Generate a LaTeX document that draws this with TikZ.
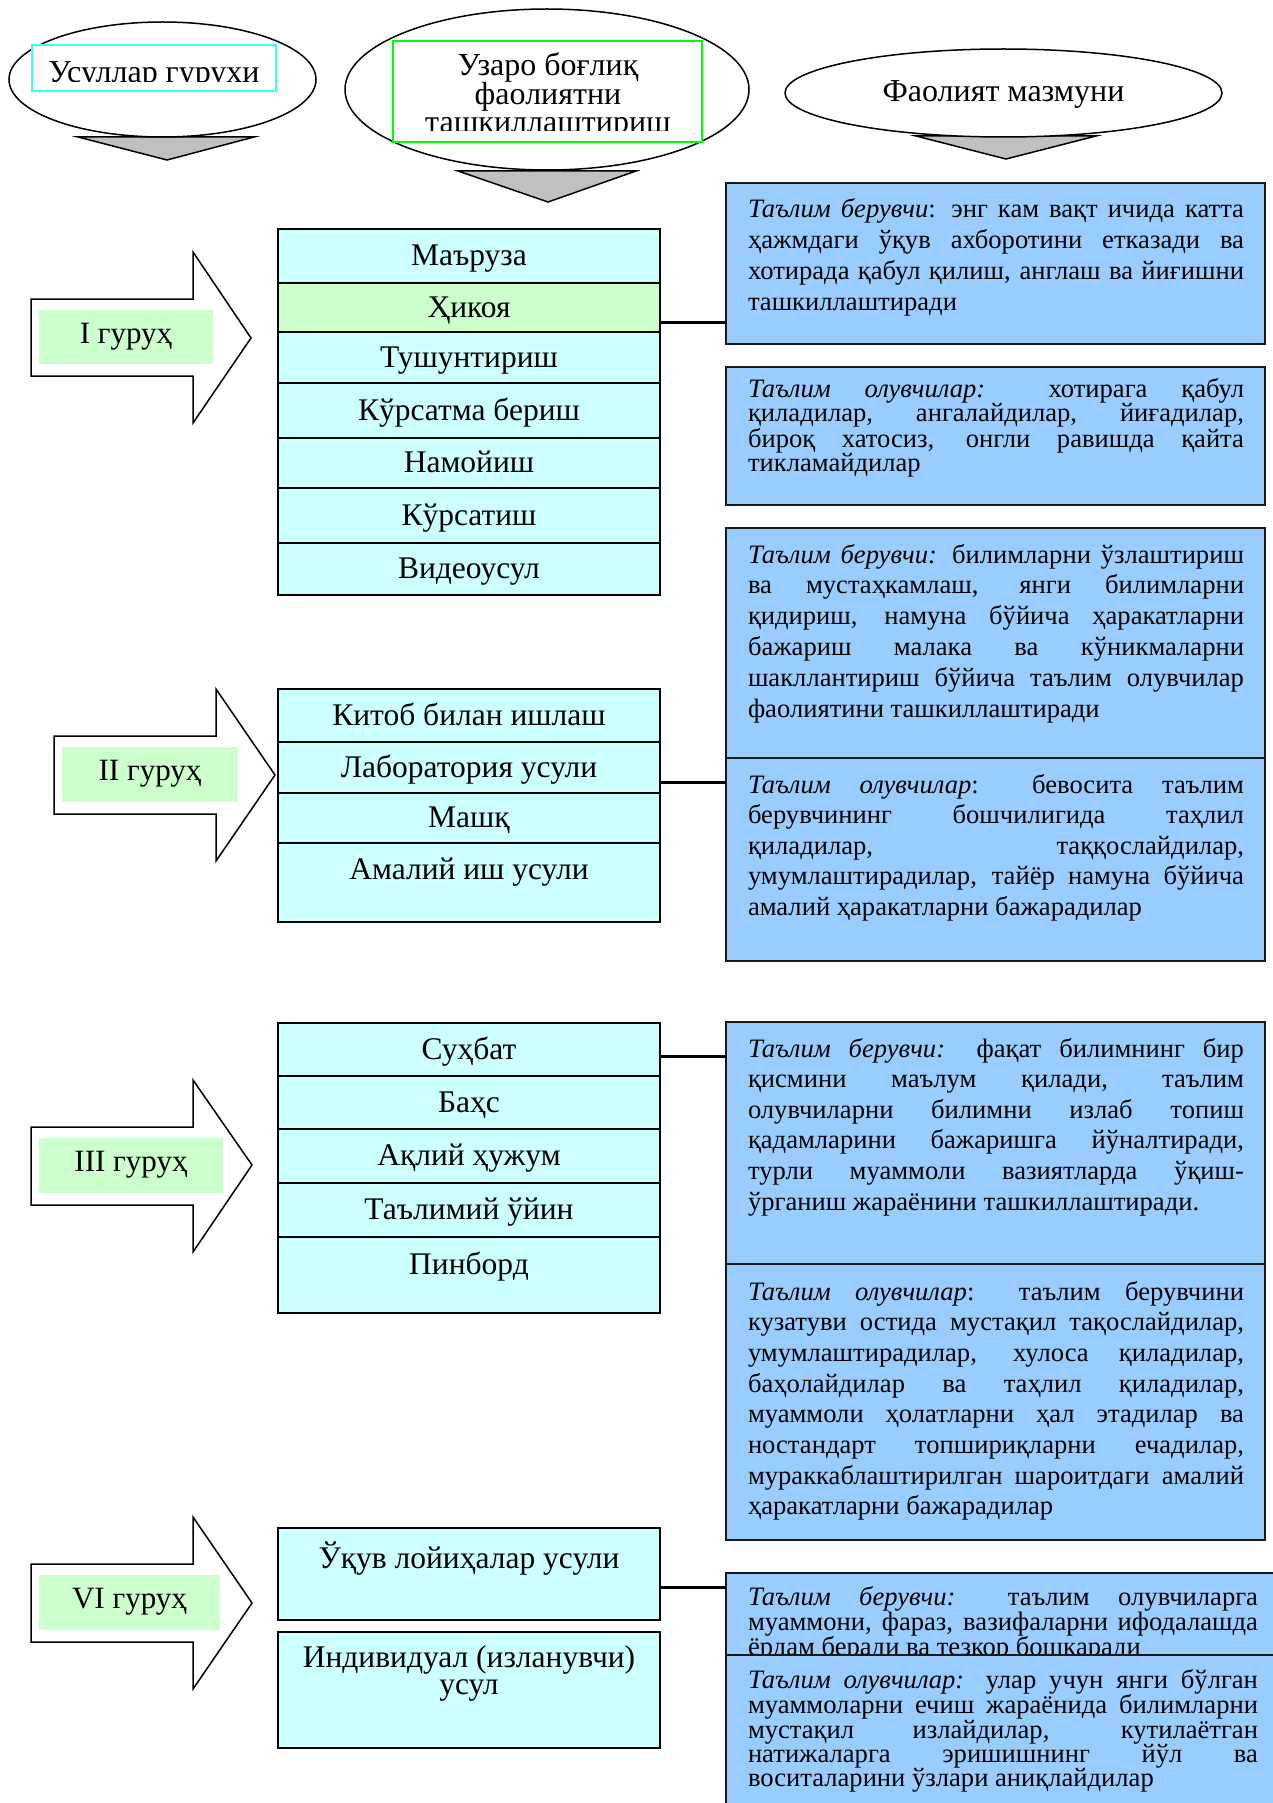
\documentclass[tikz,border=0pt]{standalone}
\usepackage{fontspec}
\setmainfont{Liberation Serif}
\usetikzlibrary{shapes.geometric}
\definecolor{rowcyan}{HTML}{CCFFFF}
\definecolor{rowgreen}{HTML}{CCFFCC}
\definecolor{labgreen}{HTML}{CCFFCC}
\definecolor{boxblue}{HTML}{99CCFF}
\definecolor{trigray}{HTML}{C0C0C0}
\definecolor{cyanrim}{HTML}{33FFFF}
\definecolor{greenrim}{HTML}{00FF00}
\newlength\bw
\newcommand\jl[1]{\hbox to \bw{#1}}
\newcommand\lastl[1]{\hbox to \bw{#1\hfil}}
\newcommand\btext[3]{\vtop{\setlength\bw{#1}\fontsize{26.6}{#2}\selectfont #3}}
\begin{document}
\begin{tikzpicture}[x=1pt,y=-1pt,
  rowbox/.style={draw=black, line width=1.5pt, fill=rowcyan, minimum width=382pt,
    inner sep=0pt, outer sep=0pt, anchor=north west, text height=21pt, text depth=2pt,
    font=\fontsize{31.5}{31.5}\selectfont},
  bbox/.style={draw=black!90, line width=1.5pt, fill=boxblue, inner sep=0pt, outer sep=0pt,
    anchor=north west, minimum width=539pt},
  btxt/.style={anchor=base west, inner sep=0pt, outer sep=0pt},
  glabel/.style={fill=labgreen, inner sep=0pt, outer sep=0pt, anchor=north west,
    text height=21pt, text depth=9pt, font=\fontsize{31}{31}\selectfont},
  garrow/.style={draw=black, line width=1.5pt, fill=white, line join=miter},
  tri/.style={draw=black, line width=1.5pt, fill=trigray, line join=miter},
  hell/.style={ellipse, draw=black, line width=1.5pt, fill=white, inner sep=0pt, outer sep=0pt},
  htxt/.style={anchor=base, inner sep=0pt, font=\fontsize{32}{32}\selectfont},
  conn/.style={draw=black, line width=3pt}
]
\useasboundingbox (0,0) rectangle (1272,1803);
\fill[white] (0,0) rectangle (1272,1803);

% ---------- header ----------
\draw[tri] (78,137) -- (254,137) -- (167,160) -- cycle;
\draw[tri] (458,171) -- (636,171) -- (548,202) -- cycle;
\draw[tri] (916,136) -- (1096,136) -- (1006,159) -- cycle;
\node[hell, minimum width=307pt, minimum height=115pt] (e1) at (162.5,79.5) {};
\node[hell, minimum width=404pt, minimum height=161pt] (e2) at (547,89.5) {};
\node[hell, minimum width=437pt, minimum height=88pt] (e3) at (1003.5,93) {};
\node[draw=cyanrim, line width=1.5pt, fill=white, inner sep=0pt, outer sep=0pt,
  anchor=north west, minimum width=244pt, minimum height=46pt] (h1) at (32,45) {};
\node[draw=greenrim, line width=1.5pt, fill=white, inner sep=0pt, outer sep=0pt,
  anchor=north west, minimum width=309pt, minimum height=101pt] (h2) at (393,41) {};
\begin{scope}
  \clip (32,45) rectangle (276,82);
  \node[htxt] (h1t) at (154,83) {Усуллар гурухи};
\end{scope}
\begin{scope}
  \clip (393,41) rectangle (702,131);
  \node[htxt] (h2a) at (548,76) {Узаро боғлиқ};
  \node[htxt] (h2b) at (548,105) {фаолиятни};
  \node[htxt] (h2c) at (548,133) {ташкиллаштириш};
\end{scope}
\node[htxt] (h3t) at (1003.5,102) {Фаолият мазмуни};

% ---------- group arrows ----------
\draw[garrow] (31,299) -- (193,299) -- (193,252) -- (251,338) -- (193,423) -- (193,376) -- (31,376) -- cycle;
\draw[garrow] (54,736) -- (216,736) -- (216,689) -- (275,775) -- (216,861) -- (216,814) -- (54,814) -- cycle;
\draw[garrow] (31,1127) -- (193,1127) -- (193,1080) -- (252,1165) -- (193,1252) -- (193,1205) -- (31,1205) -- cycle;
\draw[garrow] (31,1564) -- (193,1564) -- (193,1517) -- (252,1603) -- (193,1689) -- (193,1642) -- (31,1642) -- cycle;
\node[glabel, minimum width=174pt, minimum height=54pt] (g1) at (39,310) {I гуруҳ};
\node[glabel, minimum width=176pt, minimum height=55pt] (g2) at (62,747) {II гуруҳ};
\node[glabel, minimum width=184pt, minimum height=55pt] (g3) at (39,1138) {III гуруҳ};
\node[glabel, minimum width=181pt, minimum height=55pt] (g4) at (39,1575) {VI гуруҳ};

% ---------- method lists ----------
\node[rowbox, minimum height=54pt] (r11) at (278,229) {Маъруза};
\node[rowbox, minimum height=49pt, fill=rowgreen] (r12) at (278,283) {Ҳикоя};
\node[rowbox, minimum height=51pt] (r13) at (278,332) {Тушунтириш};
\node[rowbox, minimum height=55pt] (r14) at (278,383) {Кўрсатма бериш};
\node[rowbox, minimum height=50pt] (r15) at (278,438) {Намойиш};
\node[rowbox, minimum height=55pt] (r16) at (278,488) {Кўрсатиш};
\node[rowbox, minimum height=52pt] (r17) at (278,543) {Видеоусул};

\node[rowbox, minimum height=53pt] (r21) at (278,689) {Китоб билан ишлаш};
\node[rowbox, minimum height=51pt] (r22) at (278,742) {Лаборатория усули};
\node[rowbox, minimum height=50pt] (r23) at (278,793) {Машқ};
\node[rowbox, minimum height=79pt, text depth=27pt] (r24) at (278,843) {Амалий иш усули};

\node[rowbox, minimum height=53pt] (r31) at (278,1023) {Суҳбат};
\node[rowbox, minimum height=53pt] (r32) at (278,1076) {Баҳс};
\node[rowbox, minimum height=54pt] (r33) at (278,1129) {Ақлий ҳужум};
\node[rowbox, minimum height=54pt] (r34) at (278,1183) {Таълимий ўйин};
\node[rowbox, minimum height=76pt, text depth=22pt] (r35) at (278,1237) {Пинборд};

\node[rowbox, minimum height=92pt, text depth=32pt] (r41) at (278,1528) {Ўқув лойиҳалар усули};
\node[rowbox, minimum height=116pt] (r42) at (278,1632) {};
\node[htxt, font=\fontsize{31.5}{31.5}\selectfont] (r42a) at (469,1667) {Индивидуал (изланувчи)};
\node[htxt, font=\fontsize{31.5}{31.5}\selectfont] (r42b) at (469,1694) {усул};

% ---------- content boxes ----------
\node[bbox, minimum height=161pt] (b1) at (726,183) {};
\node[btxt] (t1) at (748,218) {\btext{496pt}{30.7}{%
\jl{\textit{Таълим берувчи}: энг кам вақт ичида катта}%
\jl{ҳажмдаги ўқув ахборотини етказади ва}%
\jl{хотирада қабул қилиш, англаш ва йиғишни}%
\lastl{ташкиллаштиради}}};

\node[bbox, minimum height=138pt] (b2) at (726,367) {};
\node[btxt] (t2) at (748,397) {\btext{496pt}{24.3}{%
\jl{\textit{Таълим олувчилар:} хотирага қабул}%
\jl{қиладилар, ангалайдилар, йиғадилар,}%
\jl{бироқ хатосиз, онгли равишда қайта}%
\lastl{тикламайдилар}}};

\node[bbox, minimum height=230pt] (b3) at (726,528) {};
\node[btxt] (t3) at (748,563) {\btext{496pt}{30.8}{%
\jl{\textit{Таълим берувчи:} билимларни ўзлаштириш}%
\jl{ва мустаҳкамлаш, янги билимларни}%
\jl{қидириш, намуна бўйича ҳаракатларни}%
\jl{бажариш малака ва кўникмаларни}%
\jl{шакллантириш бўйича таълим олувчилар}%
\lastl{фаолиятини ташкиллаштиради}}};

\node[bbox, minimum height=203pt] (b4) at (726,758) {};
\node[btxt] (t4) at (748,793) {\btext{496pt}{30.5}{%
\jl{\textit{Таълим олувчилар}: бевосита таълим}%
\jl{берувчининг бошчилигида таҳлил}%
\jl{қиладилар, таққослайдилар,}%
\jl{умумлаштирадилар, тайёр намуна бўйича}%
\lastl{амалий ҳаракатларни бажарадилар}}};

\node[bbox, minimum height=242pt] (b5) at (726,1022) {};
\node[btxt] (t5) at (748,1057) {\btext{496pt}{30.6}{%
\jl{\textit{Таълим берувчи:} фақат билимнинг бир}%
\jl{қисмини маълум қилади, таълим}%
\jl{олувчиларни билимни излаб топиш}%
\jl{қадамларини бажаришга йўналтиради,}%
\jl{турли муаммоли вазиятларда ўқиш-}%
\lastl{ўрганиш жараёнини ташкиллаштиради.}}};

\node[bbox, minimum height=276pt] (b6) at (726,1264) {};
\node[btxt] (t6) at (748,1300) {\btext{496pt}{30.7}{%
\jl{\textit{Таълим олувчилар}: таълим берувчини}%
\jl{кузатуви остида мустақил тақослайдилар,}%
\jl{умумлаштирадилар, хулоса қиладилар,}%
\jl{баҳолайдилар ва таҳлил қиладилар,}%
\jl{муаммоли ҳолатларни ҳал этадилар ва}%
\jl{ностандарт топшириқларни ечадилар,}%
\jl{мураккаблаштирилган шароитдаги амалий}%
\lastl{ҳаракатларни бажарадилар}}};

\node[bbox, minimum width=564pt, minimum height=82pt] (b7) at (726,1573) {};
\node[btxt] (t7) at (748,1605) {\btext{510pt}{24}{%
\jl{\textit{Таълим берувчи:} таълим олувчиларга}%
\jl{муаммони, фараз, вазифаларни ифодалашда}%
\lastl{ёрдам беради ва тезкор бошқаради}}};

\node[bbox, minimum width=564pt, minimum height=200pt] (b8) at (726,1655) {};
\node[btxt] (t8) at (748,1688) {\btext{510pt}{24.25}{%
\jl{\textit{Таълим олувчилар:} улар учун янги бўлган}%
\jl{муаммоларни ечиш жараёнида билимларни}%
\jl{мустақил излайдилар, кутилаётган}%
\jl{натижаларга эришишнинг йўл ва}%
\lastl{воситаларини ўзлари аниқлайдилар}}};

% ---------- connectors ----------
\coordinate (k1) at (0,322);
\coordinate (k2) at (0,782);
\coordinate (k3) at (0,1056);
\coordinate (k4) at (0,1587);
\draw[conn] (r12.east |- k1) -- (b1.west |- k1);
\draw[conn] (r22.east |- k2) -- (b4.west |- k2);
\draw[conn] (r31.east |- k3) -- (b5.west |- k3);
\draw[conn] (r41.east |- k4) -- (b7.west |- k4);
\end{tikzpicture}
\end{document}
